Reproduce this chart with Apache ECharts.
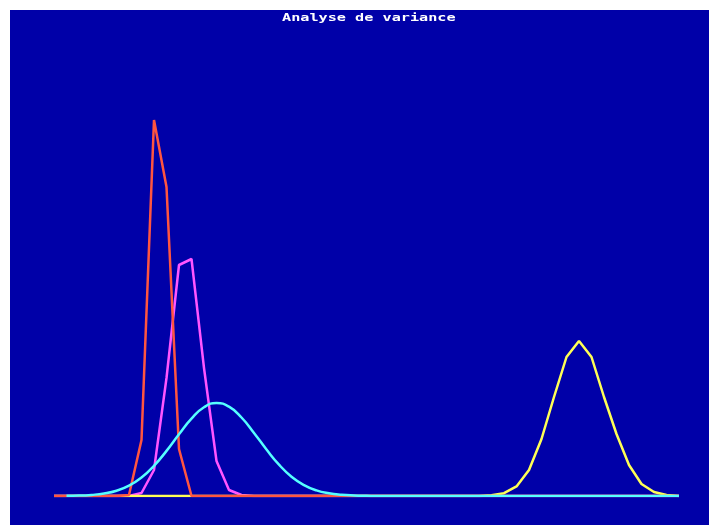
<!DOCTYPE html>
<html>
<head>
<meta charset="utf-8">
<script src="https://cdn.jsdelivr.net/npm/echarts@6/dist/echarts.min.js"></script>
<style>
html,body{margin:0;padding:0;background:#ffffff;width:709px;height:525px;overflow:hidden;}
#chart{position:absolute;left:10px;top:10px;width:699px;height:515px;}
</style>
</head>
<body>
<div id="chart"></div>
<script>
const titleText = 'Analyse de variance';
const xValues = [0,1,2,3,4,5,6,7,8,9,10,11,12,13,14,15,16,17,18,19,20,21,22,23,24,25,26,27,28,29,30,31,32,33,34,35,36,37,38,39,40,41,42,43,44,45,46,47,48,49,50];
// read heights (arbitrary units)
const redValues = [0,0,0,0,0,0,1,56,376,309,47,0,0,0,0,0,0,0,0,0,0,0,0,0,0,0,0,0,0,0,0,0,0,0,0,0,0,0,0,0,0,0,0,0,0,0,0,0,0,0,0];
const magentaValues = [0,0,0,0,0,0,0,3,26,118,231,237,128,35,6,1,0,0,0,0,0,0,0,0,0,0,0,0,0,0,0,0,0,0,0,0,0,0,0,0,0,0,0,0,0,0,0,0,0,0,0];
const cyanValues = [null,0.2,0.4,1.1,2.5,5.3,10.4,18.5,30.2,45.1,61.8,77.4,88.7,93,89.3,78.5,63.1,46.5,31.3,19.3,10.9,5.6,2.7,1.2,0.5,0.2,0,0,0,0,0,0,0,0,0,0,0,0,0,0,0,0,0,0,0,0,0,0,0,0,0];
const yellowValues = [0,0,0,0,0,0,0,0,0,0,0,0,0,0,0,0,0,0,0,0,0,0,0,0,0,0,0,0,0,0,0,0,0,0,0,0.7,2.8,9.6,26,57,99,139,155,139,99,62,31,12,4,1,0];

const chart = echarts.init(document.getElementById('chart'), null, {renderer:'canvas'});
function mk(name, values, color, smooth, z){
  return {
    name: name, type:'line', data: values, showSymbol:false, smooth: smooth,
    lineStyle:{color:color, width:2.5}, itemStyle:{color:color}, z:z,
    connectNulls:false, silent:true
  };
}
chart.setOption({
  animation:false,
  backgroundColor:'#0000A8',
  grid:{left:44, right:30, top:86, bottom:29},
  xAxis:{type:'category', data:xValues, boundaryGap:false, show:false},
  yAxis:{type:'value', min:0, max:400, show:false, splitLine:{show:false}},
  graphic:[{
    type:'text', x:272, y:8, scaleX:1.38, scaleY:1,
    style:{text:titleText, fill:'#ffffff', font:'bold 11px "DejaVu Sans Mono"', textAlign:'left', textVerticalAlign:'middle'}
  }],
  series:[
    mk('magenta', magentaValues, '#FF55FF', false, 2),
    mk('yellow', yellowValues, '#FFFF55', false, 3),
    mk('red', redValues, '#FF5540', false, 4),
    mk('cyan', cyanValues, '#55FFFF', true, 5)
  ]
});
</script>
</body>
</html>
